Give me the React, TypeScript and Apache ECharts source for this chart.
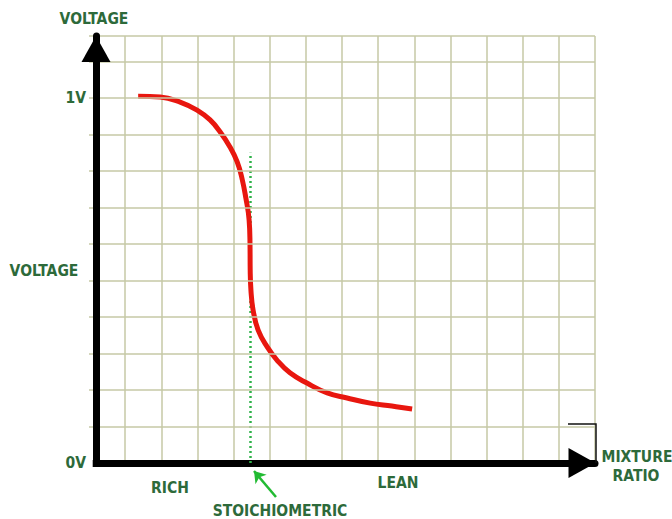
import React, { useEffect, useRef } from "react";
import * as echarts from "echarts";

// Mixture ratio (grid cells) and sensor voltage (V)
const curveX = [1.36, 1.97, 2.52, 2.99, 3.35, 3.63, 3.9, 4.1, 4.23, 4.34, 4.43, 4.455, 4.46, 4.48, 4.54, 4.68, 4.93, 5.2, 5.56, 6.03, 6.59, 7.14, 7.78, 8.38, 8.94];
const curveY = [1.005, 1.003, 0.989, 0.967, 0.94, 0.907, 0.866, 0.825, 0.781, 0.726, 0.666, 0.597, 0.529, 0.474, 0.419, 0.364, 0.318, 0.282, 0.247, 0.219, 0.192, 0.178, 0.164, 0.156, 0.148];

const stoichX = 4.46;
const stoichTop = 0.85;

const xMin = 0;
const xMax = 14;
const xStep = 1;
const yMin = 0;
const yMax = 1.17;
const yStep = 0.1;
const yTickValues = [0, 1];
const yTickLabels = ["0V", "1V"];

const GREEN = "#2d6a3a";
const FONT = '"Liberation Sans Narrow", "DejaVu Sans Condensed", "Roboto", sans-serif';
const FS = 15.5;

function txt(text: string, x: number, y: number) {
  return {
    type: "text",
    x,
    y,
    z: 20,
    silent: true,
    style: {
      text,
      fill: GREEN,
      fontSize: FS,
      fontWeight: "bold",
      fontFamily: FONT,
      align: "center",
      verticalAlign: "middle",
      textAlign: "center",
      textVerticalAlign: "middle",
    },
  };
}

export default function App() {
  const ref = useRef<HTMLDivElement>(null);
  useEffect(() => {
    if (!ref.current) return;
    const chart = echarts.init(ref.current, undefined, { renderer: "svg" });
    const data = curveX.map((x, i) => [x, curveY[i]]);
    chart.setOption({
      animation: false,
      backgroundColor: "#ffffff",
      grid: { left: 89, right: 77, top: 36, bottom: 56 },
      xAxis: {
        type: "value",
        min: xMin,
        max: xMax,
        interval: xStep,
        offset: 2,
        axisLine: {
          show: true,
          symbol: ["none", "triangle"],
          symbolSize: [30, 27],
          symbolOffset: [0, -13],
          lineStyle: { color: "#000", width: 7 },
        },
        axisTick: { show: false },
        axisLabel: { show: false },
        splitLine: { show: true, showMinLine: false, lineStyle: { color: "#c6c8a6", width: 1.5 } },
      },
      yAxis: {
        type: "value",
        min: yMin,
        max: yMax,
        interval: yStep,
        offset: -7,
        z: 12,
        axisLine: {
          show: true,
          symbol: ["none", "triangle"],
          symbolSize: [29, 26],
          symbolOffset: [0, -13],
          lineStyle: { color: "#000", width: 7 },
        },
        axisTick: { show: false },
        axisLabel: {
          show: true,
          margin: 10,
          color: GREEN,
          fontSize: FS,
          fontWeight: "bold",
          fontFamily: FONT,
          formatter: (v: number) => {
            const i = yTickValues.findIndex((t) => Math.abs(t - v) < 1e-6);
            return i >= 0 ? yTickLabels[i] : "";
          },
        },
        splitLine: { show: true, showMinLine: false, lineStyle: { color: "#c6c8a6", width: 1.5 } },
      },
      series: [
        {
          type: "line",
          data: [],
          silent: true,
          markLine: {
            silent: true,
            symbol: "none",
            label: { show: false },
            lineStyle: { type: [2, 3], color: "#2fb24a", width: 2.5 },
            data: [[{ coord: [stoichX, 0] }, { coord: [stoichX, stoichTop] }]],
          },
        },
        {
          type: "line",
          data,
          smooth: 0.45,
          showSymbol: false,
          silent: true,
          z: 5,
          lineStyle: { color: "#e8170f", width: 5 },
        },
        {
          type: "line",
          data: [],
          silent: true,
          markLine: {
            silent: true,
            symbol: ["none", "arrow"],
            symbolSize: 11,
            label: { show: false },
            lineStyle: { type: "solid", color: "#22bb33", width: 2.5 },
            data: [[{ x: 276, y: 497 }, { x: 254, y: 471 }]],
          },
        },
      ],
      graphic: [
        {
          type: "rect",
          z: 10,
          silent: true,
          shape: { x: 85, y: 63, width: 7.7, height: 412 },
          style: { fill: "#ffffff" },
        },
        txt("VOLTAGE", 94, 19),
        txt("VOLTAGE", 44, 271),
        txt("RICH", 170, 488),
        txt("STOICHIOMETRIC", 280, 510.5),
        txt("LEAN", 398, 483),
        txt("MIXTURE", 637, 457),
        txt("RATIO", 636, 475.5),
        {
          type: "polyline",
          silent: true,
          z: 10,
          shape: { points: [[568, 424], [596, 424], [596, 463]] },
          style: { stroke: "#111", lineWidth: 1.5, fill: "none" },
        },
      ],
    });
    return () => chart.dispose();
  }, []);
  return (
    <div
      ref={ref}
      style={{ position: "fixed", left: 0, top: 0, width: 672, height: 519, background: "#fff" }}
    />
  );
}
